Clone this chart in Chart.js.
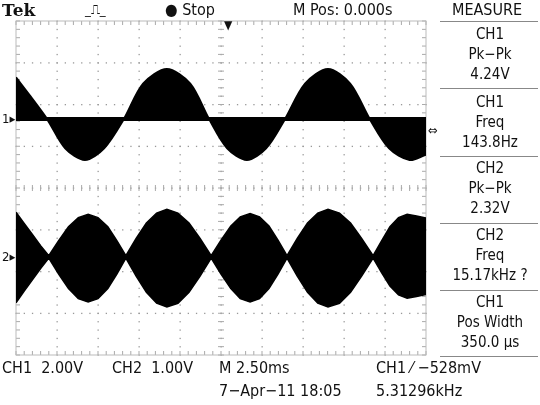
<!DOCTYPE html>
<html><head><meta charset="utf-8">
<script src="https://cdn.jsdelivr.net/npm/chart.js@4"></script>
<style>
body{margin:0;background:#fff;width:540px;height:405px;overflow:hidden;position:relative;font-family:"Liberation Sans Narrow","DejaVu Sans Condensed","Liberation Sans",sans-serif;}
#c{position:absolute;left:0;top:0;}
.t{position:absolute;font-size:15px;color:#111;white-space:pre;line-height:1;}
.m{position:absolute;left:440px;width:100px;text-align:center;font-size:15px;line-height:20px;color:#111;}
.sep{position:absolute;left:440px;width:98px;height:1px;background:#888;}
</style></head><body>
<canvas id="c" width="540" height="405"></canvas>
<div class="t" style="left:2px;top:2px;font-family:'DejaVu Serif','Liberation Serif',serif;font-weight:bold;font-size:17px;">Tek</div>
<div class="t" style="left:85px;top:3px;font-size:13px;">_⎍_</div>
<div class="t" style="left:165px;top:2px;font-size:16px;">● Stop</div>
<div class="t" style="left:293px;top:2px;font-size:16px;">M Pos: 0.000s</div>
<div class="t" style="left:452px;top:2px;font-size:16px;">MEASURE</div>
<div class="sep" style="top:21px"></div>
<div class="m" style="top:24px">CH1<br>Pk−Pk<br>4.24V</div>
<div class="sep" style="top:88px"></div>
<div class="m" style="top:92px">CH1<br>Freq<br>143.8Hz</div>
<div class="sep" style="top:156px"></div>
<div class="m" style="top:158px">CH2<br>Pk−Pk<br>2.32V</div>
<div class="sep" style="top:223px"></div>
<div class="m" style="top:225px">CH2<br>Freq<br>15.17kHz ?</div>
<div class="sep" style="top:290px"></div>
<div class="m" style="top:292px">CH1<br>Pos Width<br>350.0 μs</div>
<div class="sep" style="top:356px"></div>
<div class="t" style="left:2px;top:360px;font-size:16px;">CH1  2.00V</div>
<div class="t" style="left:112px;top:360px;font-size:16px;">CH2  1.00V</div>
<div class="t" style="left:219px;top:360px;font-size:16px;">M 2.50ms</div>
<div class="t" style="left:376px;top:360px;font-size:16px;">CH1 ⁄ −528mV</div>
<div class="t" style="left:219px;top:383px;font-size:16px;">7−Apr−11 18:05</div>
<div class="t" style="left:376px;top:383px;font-size:16px;">5.31296kHz</div>
<div class="t" style="left:2px;top:112px;font-size:13px;">1▸</div>
<div class="t" style="left:2px;top:250px;font-size:13px;">2▸</div>
<div class="t" style="left:224px;top:19px;font-size:12px;">▼</div>
<div class="t" style="left:428px;top:124px;font-size:13px;">⇔</div>
<script>
// time axis in divisions
const ch1X = [0,0.35,0.76,1.2,1.68,2.15,2.63,3.1,3.68,4.25,4.71,5.15,5.63,6.1,6.56,7.05,7.61,8.15,8.63,9.1,9.6,10];
const ch1Y = [1.0,0.55,0,-0.7,-0.98,-0.7,0,0.85,1.2,0.85,0,-0.7,-0.98,-0.7,0,0.85,1.2,0.85,0,-0.7,-0.98,-0.85];
const ch2X = [0,0.2,0.4,0.6,0.8, 1.04,1.28,1.52,1.76, 2.0,2.24,2.46,2.68, 2.93,3.18,3.43,3.68, 3.95,4.22,4.49,4.76, 5.0,5.24,5.47,5.71, 5.94,6.17,6.39,6.61, 6.86,7.11,7.36,7.61, 7.89,8.16,8.43,8.71, 8.92,9.12,9.33,9.54, 9.77,10];
const ch2Upper = [1.07,0.8,0.54,0.27,0.03, 0.39,0.72,0.94,1.02,0.94,0.72,0.39,0.03, 0.44,0.81,1.05,1.14,1.05,0.81,0.44,0.03, 0.4,0.74,0.96,1.04,0.96,0.74,0.4,0.03, 0.44,0.81,1.05,1.14,1.05,0.81,0.44,0.03, 0.39,0.72,0.94,1.02,0.98,0.93];
const ch2Lower = [-1.1,-0.82,-0.55,-0.28,-0.03, -0.41,-0.76,-1.0,-1.08,-1.0,-0.76,-0.41,-0.03, -0.46,-0.85,-1.11,-1.2,-1.11,-0.85,-0.46,-0.03, -0.41,-0.76,-1.0,-1.08,-1.0,-0.76,-0.41,-0.03, -0.46,-0.85,-1.11,-1.2,-1.11,-0.85,-0.46,-0.03, -0.38,-0.7,-0.91,-0.99,-0.95,-0.9];
const ch1Offset = 1.65, ch2Offset = -1.65;

const pts=(xs,ys,off)=>xs.map((x,i)=>({x,y:ys[i]+off}));
const grat={id:'grat',beforeDatasetsDraw(ch){
  const {ctx,chartArea:a,scales:{x,y}}=ch;ctx.save();
  ctx.fillStyle='#999';
  for(let i=1;i<10;i++){const px=x.getPixelForValue(i);for(let j=0;j<=40;j++){ctx.fillRect(px-0.5,y.getPixelForValue(-4+j*0.2)-0.5,1.3,1.3);}}
  for(let j=1;j<8;j++){const py=y.getPixelForValue(-4+j);for(let i=0;i<=50;i++){ctx.fillRect(x.getPixelForValue(i*0.2)-0.5,py-0.5,1.3,1.3);}}
  ctx.fillStyle='#aaa';
  for(let i=0;i<=50;i++){const px=x.getPixelForValue(i*0.2);ctx.fillRect(px-0.5,y.getPixelForValue(0)-3,1,6);ctx.fillRect(px-0.5,a.top,1,4);ctx.fillRect(px-0.5,a.bottom-4,1,4);}
  for(let j=0;j<=40;j++){const py=y.getPixelForValue(-4+j*0.2);ctx.fillRect(x.getPixelForValue(5)-3,py-0.5,6,1);ctx.fillRect(a.left,py-0.5,4,1);ctx.fillRect(a.right-4,py-0.5,4,1);}
  ctx.strokeStyle='#bbb';ctx.lineWidth=1;ctx.strokeRect(a.left,a.top,a.right-a.left,a.bottom-a.top);
  ctx.restore();}};
new Chart(document.getElementById('c'),{type:'line',
 data:{datasets:[
  {data:pts(ch1X,ch1Y,ch1Offset),borderColor:'#000',borderWidth:2,backgroundColor:'#000',fill:{value:ch1Offset},tension:0.3,pointRadius:0},
  {data:pts(ch1X,ch1X.map(()=>0),ch1Offset),borderColor:'#000',borderWidth:4,pointRadius:0,fill:false},
  {data:pts(ch2X,ch2Upper,ch2Offset),borderColor:'#000',borderWidth:1.5,backgroundColor:'#000',fill:'+1',tension:0,pointRadius:0},
  {data:pts(ch2X,ch2Lower,ch2Offset),borderColor:'#000',borderWidth:1.5,fill:false,tension:0,pointRadius:0}
 ]},
 options:{responsive:false,animation:false,events:[],
  layout:{padding:{left:16,right:114,top:21,bottom:50}},
  plugins:{legend:{display:false},tooltip:{enabled:false}},
  scales:{x:{type:'linear',min:0,max:10,display:false},y:{min:-4,max:4,display:false}}},
 plugins:[grat]});
</script></body></html>
